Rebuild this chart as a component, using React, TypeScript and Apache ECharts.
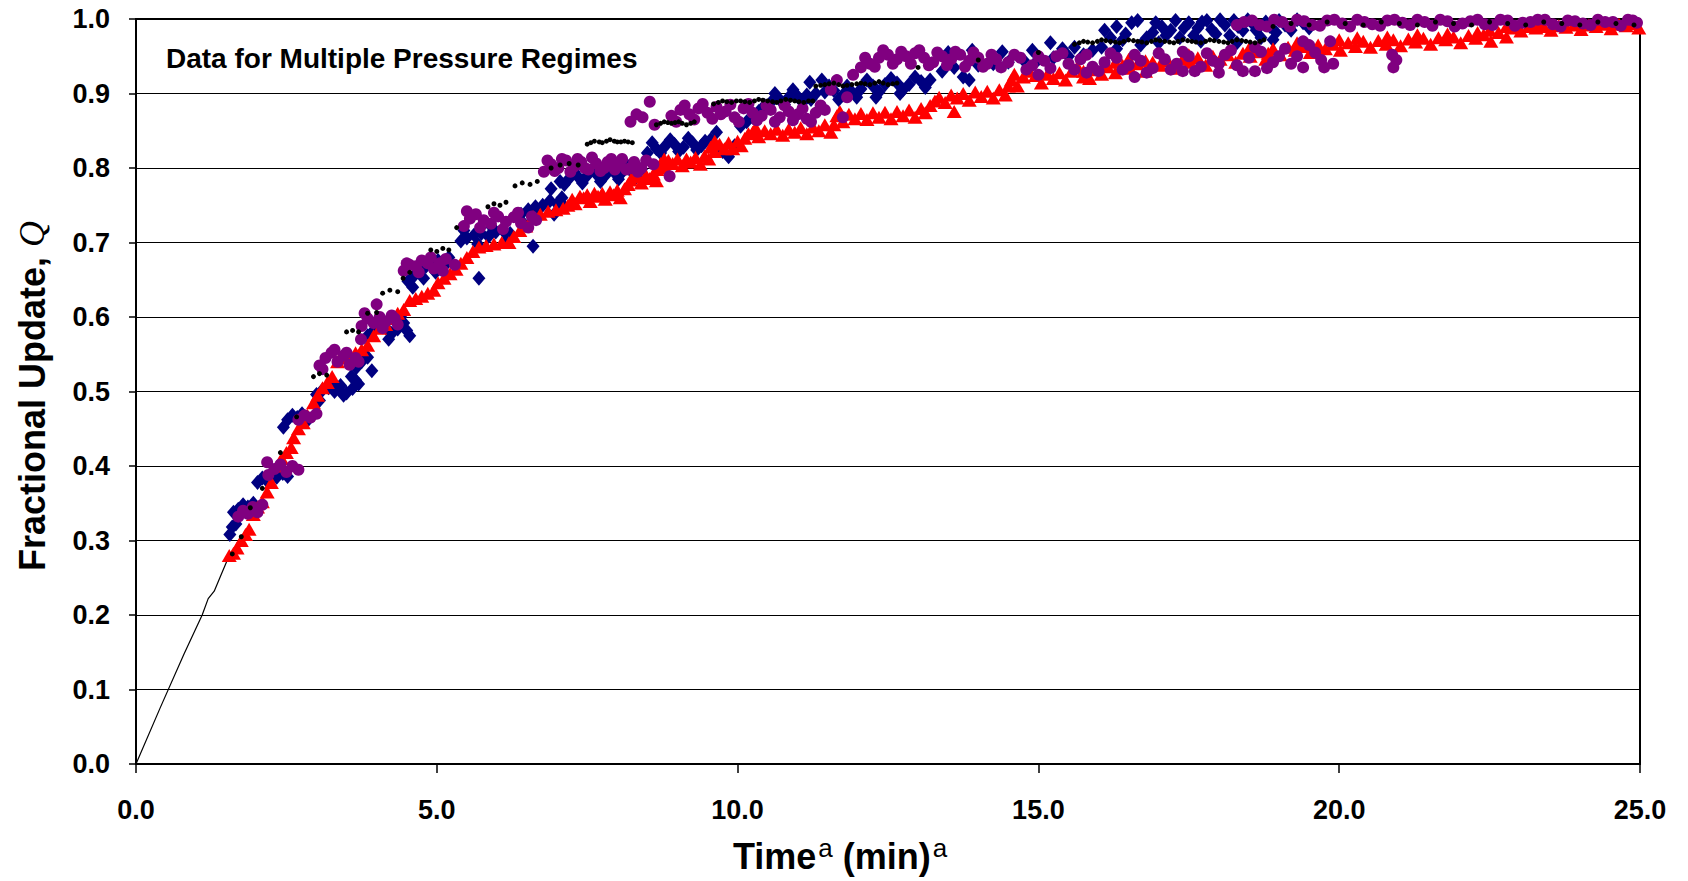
import React, { useEffect, useRef } from "react";
import * as echarts from "echarts";

const xTicks = [0, 5, 10, 15, 20, 25];
const yTicks = [0, 0.1, 0.2, 0.3, 0.4, 0.5, 0.6, 0.7, 0.8, 0.9, 1.0];

const blackLine: [number, number][] = [
  [0, 0], [0.4, 0.075], [0.8, 0.148], [1.1, 0.2], [1.2, 0.222], [1.3, 0.232], [1.42, 0.255], [1.55, 0.28],
];

const blueDiamonds: [number, number][] = [
  [1.56, 0.308], [1.6, 0.318], [1.66, 0.322], [1.62, 0.338], [1.7, 0.342], [1.78, 0.348], [1.86, 0.345], [1.95, 0.35],
  [2.02, 0.378], [2.1, 0.384], [2.18, 0.38], [2.26, 0.388], [2.34, 0.385], [2.44, 0.39], [2.52, 0.386],
  [2.45, 0.452], [2.52, 0.462], [2.6, 0.468], [2.68, 0.465], [2.76, 0.47], [2.84, 0.46],
  [3.0, 0.496], [3.1, 0.502], [3.2, 0.505], [3.3, 0.5], [3.4, 0.508], [3.5, 0.498], [3.6, 0.504], [3.7, 0.51],
  [3.58, 0.52], [3.66, 0.532], [3.75, 0.54], [3.85, 0.546], [3.92, 0.528],
  [3.85, 0.575], [3.95, 0.582], [4.05, 0.59], [4.15, 0.586], [4.25, 0.578], [4.35, 0.584], [4.45, 0.592], [4.55, 0.575],
  [4.52, 0.648], [4.62, 0.655], [4.72, 0.662], [4.82, 0.668], [4.92, 0.672], [5.02, 0.676], [5.12, 0.668],
  [5.4, 0.702], [5.5, 0.706], [5.62, 0.71], [5.74, 0.712], [5.86, 0.708], [5.98, 0.714], [6.1, 0.716], [6.22, 0.712],
  [5.7, 0.652], [6.6, 0.695],
  [6.4, 0.738], [6.52, 0.744], [6.64, 0.748], [6.76, 0.75], [6.88, 0.756], [7.0, 0.752], [7.12, 0.748],
  [6.9, 0.772], [7.05, 0.782], [7.2, 0.786], [7.35, 0.788], [7.5, 0.79], [7.65, 0.792], [7.8, 0.79], [7.95, 0.794], [8.1, 0.796], [8.25, 0.794], [8.4, 0.798],
  [8.5, 0.82], [8.65, 0.826], [8.8, 0.83], [8.95, 0.832], [9.1, 0.828], [9.25, 0.834], [9.4, 0.83],
  [9.55, 0.838], [9.65, 0.848], [9.75, 0.822], [9.85, 0.815], [9.95, 0.83], [10.05, 0.856], [10.15, 0.862],
  [10.25, 0.868], [10.35, 0.876], [10.45, 0.884], [10.55, 0.888], [10.7, 0.892], [10.85, 0.895], [11.0, 0.896], [11.15, 0.898], [11.3, 0.9], [11.45, 0.902], [11.6, 0.904], [11.75, 0.898], [11.9, 0.902],
  [12.05, 0.906], [12.25, 0.91], [12.45, 0.912], [12.65, 0.914], [12.85, 0.912], [13.05, 0.916], [13.2, 0.918],
  [11.2, 0.915], [11.4, 0.918], [12.3, 0.895], [12.7, 0.9],
  [13.4, 0.93], [13.6, 0.935], [13.75, 0.922], [13.85, 0.918], [14.0, 0.938], [14.25, 0.94], [14.5, 0.942], [14.75, 0.945], [15.0, 0.946], [15.25, 0.948], [15.5, 0.95], [15.75, 0.952], [15.2, 0.968],
  [16.05, 0.962], [16.2, 0.975], [16.4, 0.972], [16.55, 0.995], [16.7, 0.965], [16.9, 0.982], [17.05, 0.99], [17.2, 0.985], [17.35, 0.975], [17.5, 0.995], [17.65, 0.988], [17.8, 0.998], [17.95, 0.98], [18.1, 0.992], [18.25, 0.998], [18.4, 0.985], [18.55, 0.995], [18.7, 0.975], [18.85, 0.99], [19.0, 0.998], [19.2, 0.985], [19.4, 0.995],
  [15.9, 0.958], [16.3, 0.96], [17.0, 0.968], [17.7, 0.97], [18.3, 0.968], [18.9, 0.972],
  [7.12, 0.778], [7.28, 0.795], [7.42, 0.78], [7.58, 0.798], [7.72, 0.782], [7.88, 0.8], [8.02, 0.785], [8.18, 0.802], [8.32, 0.788],
  [8.58, 0.834], [8.72, 0.82], [8.88, 0.838], [9.02, 0.822], [9.18, 0.84], [9.32, 0.824], [9.46, 0.836],
  [10.62, 0.9], [10.78, 0.885], [10.92, 0.905], [11.08, 0.888], [11.22, 0.892], [11.52, 0.91], [11.68, 0.892], [11.82, 0.91], [11.98, 0.895],
  [12.15, 0.918], [12.35, 0.902], [12.55, 0.92], [12.75, 0.905], [12.95, 0.922], [13.12, 0.908],
  [13.5, 0.955], [13.9, 0.958], [14.4, 0.956], [14.9, 0.958], [15.4, 0.96], [15.6, 0.962],
  [16.1, 0.985], [16.3, 0.99], [16.45, 0.98], [16.65, 0.998], [16.8, 0.975], [16.95, 0.995], [17.12, 0.978], [17.28, 0.998], [17.42, 0.988], [17.58, 0.978], [17.72, 0.996], [17.88, 0.986], [18.02, 0.999], [18.18, 0.978], [18.32, 0.99], [18.48, 0.999], [18.62, 0.985], [18.78, 0.996], [18.95, 0.982], [19.1, 0.992], [19.3, 0.999], [19.5, 0.988],
  [6.95, 0.738], [7.08, 0.76], [6.45, 0.725], [6.7, 0.735],
  [5.45, 0.716], [5.68, 0.698], [5.92, 0.72], [6.15, 0.702],
  [4.6, 0.64], [4.78, 0.652], [4.98, 0.66], [5.2, 0.68],
  [3.05, 0.488], [3.25, 0.512], [3.45, 0.495], [3.65, 0.515],
  [4.0, 0.595], [4.2, 0.57], [4.4, 0.6], [4.5, 0.582],
];

const redTriangles: [number, number][] = [
  [1.55, 0.28], [1.62, 0.283], [1.68, 0.29], [1.75, 0.3], [1.82, 0.308], [1.88, 0.315],
  [1.95, 0.335], [2.02, 0.345], [2.1, 0.352], [2.18, 0.365], [2.25, 0.378],
  [2.35, 0.4], [2.42, 0.41], [2.5, 0.418], [2.58, 0.425],
  [2.62, 0.438], [2.7, 0.45], [2.78, 0.458], [2.85, 0.468],
  [2.95, 0.485], [3.02, 0.495], [3.1, 0.505], [3.18, 0.512], [3.26, 0.52],
  [3.35, 0.54], [3.45, 0.545], [3.55, 0.548], [3.65, 0.552], [3.75, 0.556], [3.85, 0.562],
  [3.95, 0.575], [4.05, 0.585], [4.15, 0.59], [4.25, 0.598], [4.35, 0.605], [4.45, 0.61],
  [4.55, 0.622], [4.65, 0.625], [4.75, 0.628], [4.85, 0.632], [4.95, 0.636],
  [5.02, 0.646], [5.12, 0.652], [5.22, 0.658], [5.32, 0.664],
  [5.4, 0.672], [5.5, 0.68], [5.6, 0.688],
  [5.7, 0.694], [5.82, 0.696], [5.95, 0.698], [6.08, 0.7], [6.2, 0.7],
  [6.28, 0.708], [6.38, 0.716], [6.48, 0.722],
  [6.6, 0.735], [6.72, 0.738], [6.85, 0.742], [6.98, 0.744], [7.1, 0.746],
  [7.25, 0.758], [7.38, 0.762], [7.5, 0.764], [7.62, 0.766], [7.75, 0.766], [7.88, 0.768], [8.0, 0.77], [8.12, 0.772],
  [8.22, 0.784], [8.35, 0.788], [8.48, 0.79], [8.6, 0.792],
  [8.72, 0.806], [8.85, 0.81], [9.0, 0.812], [9.15, 0.812], [9.3, 0.814], [9.45, 0.816],
  [9.55, 0.828], [9.7, 0.832], [9.85, 0.834], [10.0, 0.836], [10.12, 0.84],
  [10.25, 0.848], [10.45, 0.85], [10.65, 0.852], [10.85, 0.852], [11.05, 0.854], [11.25, 0.855], [11.45, 0.858],
  [11.65, 0.87], [11.85, 0.872], [12.05, 0.873], [12.25, 0.874], [12.45, 0.875], [12.65, 0.876], [12.85, 0.878], [13.05, 0.88], [13.2, 0.884],
  [13.35, 0.895], [13.55, 0.898], [13.75, 0.9], [13.95, 0.902], [14.15, 0.903], [14.35, 0.905],
  [14.55, 0.918], [14.75, 0.922], [14.95, 0.924], [15.15, 0.926], [15.35, 0.928], [15.55, 0.93], [15.75, 0.93], [15.95, 0.932],
  [16.15, 0.936], [16.4, 0.938], [16.65, 0.94], [16.9, 0.942], [17.15, 0.944], [17.4, 0.946], [17.65, 0.948], [17.9, 0.95], [18.15, 0.952], [18.4, 0.954], [18.65, 0.956],
  [18.9, 0.96], [19.15, 0.962], [19.4, 0.963], [19.65, 0.965], [19.9, 0.966], [20.15, 0.968],
  [20.4, 0.97], [20.65, 0.971], [20.9, 0.972], [21.15, 0.973], [21.4, 0.974], [21.65, 0.975], [21.9, 0.976], [22.15, 0.978], [22.4, 0.979], [22.65, 0.982],
  [22.9, 0.988], [23.15, 0.99], [23.4, 0.99], [23.65, 0.991], [23.9, 0.992], [24.15, 0.992], [24.4, 0.993], [24.65, 0.993], [24.9, 0.994],
  [7.3, 0.752], [7.55, 0.755], [7.8, 0.758], [8.05, 0.76],
  [8.4, 0.78], [8.65, 0.783],
  [8.8, 0.8], [9.08, 0.803], [9.38, 0.805],
  [9.62, 0.822], [9.92, 0.826],
  [10.35, 0.842], [10.75, 0.844], [11.15, 0.846], [11.55, 0.848],
  [11.75, 0.862], [12.15, 0.865], [12.55, 0.866], [12.95, 0.868],
  [13.45, 0.888], [13.6, 0.876], [13.85, 0.891], [14.25, 0.894],
  [14.65, 0.91], [15.05, 0.914], [15.45, 0.918], [15.85, 0.92],
  [16.28, 0.928], [16.78, 0.93], [17.28, 0.934], [17.78, 0.938], [18.28, 0.942], [18.78, 0.946],
  [19.02, 0.952], [19.52, 0.955], [20.02, 0.958],
  [20.52, 0.962], [21.02, 0.964], [21.52, 0.966], [22.02, 0.968], [22.52, 0.97],
  [23.02, 0.984], [23.52, 0.985], [24.02, 0.986], [24.52, 0.987], [24.98, 0.988],
  [14.85, 0.93], [15.65, 0.936], [16.5, 0.946], [17.5, 0.952], [18.5, 0.96], [19.3, 0.968], [20.3, 0.975], [21.3, 0.979], [22.3, 0.982], [23.3, 0.995], [24.3, 0.996],
  [7.18, 0.75], [7.44, 0.76], [7.68, 0.762], [7.94, 0.764], [8.18, 0.778],
  [8.28, 0.79], [8.54, 0.786], [8.66, 0.798],
  [8.78, 0.812], [8.92, 0.806], [9.22, 0.808], [9.52, 0.812],
  [9.62, 0.836], [9.78, 0.826], [10.06, 0.83], [10.18, 0.846],
  [10.3, 0.854], [10.55, 0.846], [10.95, 0.848], [11.35, 0.85], [11.6, 0.858],
  [11.7, 0.876], [11.95, 0.866], [12.35, 0.868], [12.75, 0.87], [13.12, 0.874],
  [13.28, 0.89], [13.65, 0.894], [14.05, 0.896], [14.45, 0.898], [14.5, 0.91],
  [14.6, 0.926], [15.25, 0.92], [15.75, 0.922], [16.05, 0.926],
  [16.28, 0.942], [16.52, 0.934], [16.78, 0.944], [17.02, 0.938], [17.52, 0.942], [18.02, 0.946], [18.52, 0.95],
  [18.82, 0.954], [19.27, 0.958], [19.77, 0.96], [20.27, 0.963],
  [20.78, 0.966], [21.27, 0.969], [21.77, 0.972], [22.27, 0.974], [22.78, 0.976],
  [22.78, 0.99], [23.27, 0.988], [23.77, 0.989], [24.27, 0.99], [24.77, 0.991],
  [20.0, 0.972], [20.8, 0.976], [21.8, 0.98], [22.5, 0.985],
];

const purpleCircles: [number, number][] = [
  [1.7, 0.332], [1.78, 0.34], [1.86, 0.336], [1.94, 0.345], [2.02, 0.338], [2.1, 0.348],
  [2.2, 0.388], [2.3, 0.396], [2.4, 0.402], [2.5, 0.392], [2.6, 0.4], [2.7, 0.395], [2.18, 0.405],
  [2.7, 0.462], [2.8, 0.468], [2.9, 0.465], [3.0, 0.47],
  [3.05, 0.535], [3.15, 0.545], [3.25, 0.552], [3.35, 0.54], [3.45, 0.548], [3.55, 0.536], [3.65, 0.545], [3.74, 0.57],
  [3.75, 0.588], [3.85, 0.598], [3.95, 0.592], [4.05, 0.6], [4.15, 0.594], [4.25, 0.602], [4.35, 0.59], [4.0, 0.617],
  [4.45, 0.662], [4.55, 0.67], [4.65, 0.668], [4.75, 0.676], [4.85, 0.672], [4.95, 0.665], [5.05, 0.672], [5.15, 0.678], [5.3, 0.67],
  [5.45, 0.722], [5.55, 0.732], [5.65, 0.738], [5.78, 0.73], [5.9, 0.725], [6.02, 0.735], [6.15, 0.728], [6.28, 0.734], [6.4, 0.726], [6.52, 0.72], [6.65, 0.73],
  [6.78, 0.795], [6.9, 0.805], [7.02, 0.8], [7.15, 0.81], [7.28, 0.802], [7.4, 0.808], [7.52, 0.798], [7.65, 0.806], [7.78, 0.8], [7.9, 0.812], [8.02, 0.804], [8.15, 0.798], [8.28, 0.808], [8.4, 0.8], [8.87, 0.789], [8.6, 0.805],
  [8.22, 0.862], [8.32, 0.872], [8.42, 0.868], [8.54, 0.889], [8.62, 0.858],
  [8.9, 0.87], [9.05, 0.878], [9.2, 0.872], [9.35, 0.88], [9.5, 0.874], [9.65, 0.882], [9.8, 0.876], [9.95, 0.868], [10.1, 0.88], [10.25, 0.874], [10.4, 0.87], [10.55, 0.878], [10.7, 0.868], [10.85, 0.876], [11.0, 0.872], [11.15, 0.866], [11.3, 0.874], [11.45, 0.878],
  [11.55, 0.905], [11.65, 0.918], [11.75, 0.868], [11.82, 0.895], [11.92, 0.925],
  [12.05, 0.935], [12.2, 0.94], [12.35, 0.948], [12.5, 0.952], [12.65, 0.946], [12.8, 0.95], [12.95, 0.954], [13.1, 0.948], [13.25, 0.942], [13.4, 0.95], [13.55, 0.946], [13.7, 0.952], [13.85, 0.944], [14.0, 0.948], [14.15, 0.94], [14.3, 0.946],
  [14.5, 0.942], [14.7, 0.948], [14.9, 0.938], [15.1, 0.944], [15.3, 0.95], [15.5, 0.94], [15.7, 0.946], [15.9, 0.936], [16.1, 0.942], [16.3, 0.948], [16.5, 0.938], [16.7, 0.944], [16.9, 0.934], [17.1, 0.946], [17.3, 0.94], [17.5, 0.95], [17.7, 0.936], [17.9, 0.944], [18.1, 0.952], [18.3, 0.938], [18.5, 0.948], [18.7, 0.956], [18.9, 0.942], [19.1, 0.96], [19.3, 0.95], [19.5, 0.965], [19.7, 0.945], [19.85, 0.97],
  [15.0, 0.925], [15.8, 0.928], [16.6, 0.922], [17.4, 0.93], [18.0, 0.928], [18.6, 0.93], [19.4, 0.935], [19.9, 0.94],
  [20.9, 0.935], [20.95, 0.945], [20.88, 0.952],
  [18.3, 0.992], [18.55, 0.998], [18.8, 0.99], [19.05, 0.996], [19.3, 0.999], [19.55, 0.992], [19.8, 0.998], [20.05, 0.994], [20.3, 0.999], [20.55, 0.993], [20.8, 0.998], [21.05, 0.995], [21.3, 0.999], [21.55, 0.991], [21.8, 0.997], [22.05, 0.994], [22.3, 0.999], [22.55, 0.992], [22.8, 0.998], [23.05, 0.995], [23.3, 0.999], [23.55, 0.993], [23.8, 0.998], [24.05, 0.994], [24.3, 0.999], [24.55, 0.996], [24.8, 0.999], [24.95, 0.995],
  [6.84, 0.81], [6.96, 0.796], [7.08, 0.812], [7.22, 0.795], [7.34, 0.812], [7.46, 0.8], [7.58, 0.814], [7.72, 0.796], [7.84, 0.808], [7.96, 0.798], [8.08, 0.812], [8.22, 0.8], [8.34, 0.795], [8.48, 0.81],
  [8.98, 0.862], [9.12, 0.884], [9.28, 0.865], [9.42, 0.886], [9.58, 0.866], [9.72, 0.872], [9.88, 0.885], [10.02, 0.862], [10.18, 0.886], [10.32, 0.864], [10.48, 0.884], [10.62, 0.862], [10.78, 0.884], [10.92, 0.864], [11.08, 0.88], [11.22, 0.862], [11.38, 0.884],
  [12.12, 0.948], [12.28, 0.936], [12.42, 0.958], [12.58, 0.94], [12.72, 0.956], [12.88, 0.94], [13.02, 0.958], [13.18, 0.938], [13.32, 0.955], [13.48, 0.938], [13.62, 0.956], [13.78, 0.936], [13.92, 0.955], [14.08, 0.936], [14.22, 0.952], [14.38, 0.935],
  [14.6, 0.952], [14.8, 0.932], [15.0, 0.95], [15.2, 0.934], [15.4, 0.954], [15.6, 0.932], [15.8, 0.952], [16.0, 0.93], [16.2, 0.954], [16.4, 0.932], [16.6, 0.952], [16.8, 0.928], [17.0, 0.954], [17.2, 0.932], [17.4, 0.956], [17.6, 0.93], [17.8, 0.954], [18.0, 0.94], [18.2, 0.958], [18.4, 0.93], [18.6, 0.962], [18.8, 0.934], [19.0, 0.95], [19.2, 0.94], [19.4, 0.97], [19.6, 0.955], [19.75, 0.935],
  [18.42, 0.996], [18.68, 0.992], [18.92, 0.999], [19.18, 0.99], [19.42, 0.997], [19.68, 0.991], [19.92, 0.999], [20.18, 0.99], [20.42, 0.996], [20.68, 0.991], [20.92, 0.999], [21.18, 0.992], [21.42, 0.996], [21.68, 0.999], [21.92, 0.99], [22.18, 0.997], [22.42, 0.993], [22.68, 0.999], [22.92, 0.991], [23.18, 0.996], [23.42, 0.999], [23.68, 0.99], [23.92, 0.997], [24.18, 0.992], [24.42, 0.996], [24.68, 0.991], [24.88, 0.998],
  [5.5, 0.742], [5.72, 0.72], [5.95, 0.74], [6.1, 0.718], [6.35, 0.74], [6.58, 0.735],
  [4.5, 0.672], [4.7, 0.66], [4.9, 0.68], [5.1, 0.662],
  [3.1, 0.53], [3.3, 0.556], [3.5, 0.552], [3.7, 0.54],
  [3.8, 0.605], [4.1, 0.585], [4.3, 0.598],
];

const blackDots: [number, number][] = [
  [1.6, 0.282], [1.75, 0.305], [1.9, 0.344], [2.1, 0.37], [2.4, 0.418], [2.67, 0.466],
  [2.95, 0.52], [3.05, 0.524], [3.17, 0.522],
  [3.5, 0.58], [3.6, 0.582], [3.7, 0.58], [3.85, 0.605], [4.0, 0.606],
  [4.1, 0.632], [4.22, 0.636], [4.35, 0.634], [4.44, 0.652], [4.55, 0.66],
  [4.9, 0.69], [5.0, 0.688], [5.1, 0.692], [5.2, 0.69], [5.33, 0.72],
  [5.85, 0.748], [5.95, 0.752], [6.05, 0.75], [6.15, 0.754],
  [6.3, 0.776], [6.42, 0.78], [6.55, 0.778], [6.67, 0.782],
  [6.9, 0.8], [7.05, 0.804], [7.2, 0.806], [7.35, 0.804],
  [7.5, 0.832], [7.62, 0.836], [7.75, 0.834], [7.88, 0.838], [8.0, 0.835], [8.12, 0.836], [8.25, 0.834],
  [8.65, 0.858], [8.78, 0.862], [8.9, 0.86], [9.02, 0.862], [9.15, 0.858], [9.28, 0.862],
  [9.6, 0.886], [9.75, 0.89], [9.9, 0.888], [10.05, 0.89], [10.2, 0.888], [10.35, 0.892], [10.5, 0.89], [10.65, 0.888], [10.8, 0.892], [10.95, 0.89], [11.1, 0.888], [11.25, 0.89],
  [11.3, 0.91], [11.45, 0.912], [11.6, 0.914], [11.75, 0.91], [11.9, 0.912], [12.05, 0.914], [12.2, 0.912], [12.35, 0.916], [12.5, 0.912], [12.65, 0.914],
  [13.0, 0.935], [14.0, 0.945], [15.0, 0.955],
  [15.6, 0.966], [15.75, 0.97], [15.9, 0.968], [16.05, 0.972], [16.2, 0.97], [16.35, 0.968], [16.5, 0.972], [16.65, 0.97], [16.8, 0.968], [16.95, 0.972], [17.1, 0.97], [17.25, 0.968], [17.4, 0.972], [17.55, 0.97], [17.7, 0.968], [17.85, 0.972], [18.0, 0.97], [18.15, 0.968], [18.3, 0.972], [18.45, 0.97], [18.6, 0.968], [18.75, 0.972],
  [18.9, 0.99], [19.2, 0.994], [19.5, 0.992], [19.8, 0.996], [20.1, 0.994], [20.4, 0.992], [20.7, 0.996], [21.0, 0.994], [21.3, 0.992], [21.6, 0.996], [21.9, 0.994], [22.2, 0.992], [22.5, 0.996], [22.8, 0.994], [23.1, 0.992], [23.4, 0.996], [23.7, 0.994], [24.0, 0.992], [24.3, 0.996], [24.6, 0.994], [24.9, 0.992],
  [9.68, 0.888], [9.82, 0.889], [9.98, 0.89], [10.12, 0.889], [10.28, 0.89], [10.42, 0.891], [10.58, 0.889], [10.72, 0.89], [10.88, 0.891], [11.02, 0.889], [11.18, 0.89],
  [11.38, 0.911], [11.52, 0.913], [11.68, 0.912], [11.82, 0.911], [11.98, 0.913], [12.12, 0.913], [12.28, 0.914], [12.42, 0.914], [12.58, 0.913],
  [15.68, 0.968], [15.82, 0.969], [15.98, 0.97], [16.12, 0.971], [16.28, 0.969], [16.42, 0.97], [16.58, 0.971], [16.72, 0.969], [16.88, 0.97], [17.02, 0.971], [17.18, 0.969], [17.32, 0.97], [17.48, 0.971], [17.62, 0.969], [17.78, 0.97], [17.92, 0.971], [18.08, 0.969], [18.22, 0.97], [18.38, 0.971], [18.52, 0.969], [18.68, 0.97],
  [7.56, 0.834], [7.7, 0.835], [7.82, 0.836], [7.95, 0.836], [8.06, 0.835], [8.18, 0.835],
  [8.72, 0.86], [8.84, 0.861], [8.96, 0.861], [9.08, 0.86], [9.22, 0.86],
];

const FONT = "'Liberation Sans', Arial, sans-serif";

export default function App() {
  const ref = useRef<HTMLDivElement>(null);
  useEffect(() => {
    if (!ref.current) return;
    const chart = echarts.init(ref.current, null, { renderer: "svg" });
    chart.setOption({
      animation: false,
      backgroundColor: "#ffffff",
      grid: {
        left: 136, right: 48, top: 19, bottom: 117,
        show: true, borderColor: "#000", borderWidth: 2, backgroundColor: "transparent",
      },
      xAxis: {
        type: "value", min: xTicks[0], max: xTicks[xTicks.length - 1], interval: 5,
        axisLine: { show: true, lineStyle: { color: "#000", width: 2 } },
        axisTick: { show: true, inside: false, length: 9, lineStyle: { color: "#000", width: 1.5 } },
        splitLine: { show: false },
        axisLabel: {
          margin: 32, color: "#000", fontFamily: FONT, fontWeight: "bold", fontSize: 27,
          formatter: (v: number) => v.toFixed(1),
        },
      },
      yAxis: {
        type: "value", min: yTicks[0], max: yTicks[yTicks.length - 1], interval: 0.1,
        axisLine: { show: true, lineStyle: { color: "#000", width: 2 } },
        axisTick: { show: true, inside: false, length: 7, lineStyle: { color: "#000", width: 1.5 } },
        splitLine: { show: true, lineStyle: { color: "#000", width: 1 } },
        axisLabel: {
          margin: 26, color: "#000", fontFamily: FONT, fontWeight: "bold", fontSize: 27,
          formatter: (v: number) => v.toFixed(1),
        },
      },
      graphic: [
        {
          type: "text", left: 166, top: 44,
          style: { text: "Data for Multiple Pressure Regimes", fill: "#000", font: `bold 28px ${FONT}` },
        },
        {
          type: "text", x: 32, y: 396, rotation: Math.PI / 2,
          style: {
            text: "{b|Fractional Update, }{q|Q}", align: "center", verticalAlign: "middle",
            rich: {
              b: { fontFamily: FONT, fontWeight: "bold", fontSize: 36, fill: "#000" },
              q: { fontFamily: "'Liberation Serif', 'Times New Roman', serif", fontStyle: "italic", fontSize: 36, fill: "#000" },
            },
          },
        },
        {
          type: "text", x: 840, y: 856,
          style: {
            text: "{b|Time}{s|a}{b| (min)}{s|a}", align: "center", verticalAlign: "middle",
            rich: {
              b: { fontFamily: FONT, fontWeight: "bold", fontSize: 36, lineHeight: 42, fill: "#000" },
              s: { fontFamily: FONT, fontWeight: "normal", fontSize: 26, lineHeight: 24, verticalAlign: "top", fill: "#000", padding: [0, 0, 0, 2] },
            },
          },
        },
      ],
      series: [
        {
          type: "line", data: blackLine, showSymbol: false, symbol: "none",
          lineStyle: { color: "#000", width: 1.2 }, z: 2,
        },
        {
          type: "scatter", data: blueDiamonds, symbol: "diamond", symbolSize: [13, 15],
          itemStyle: { color: "#000080", opacity: 1 }, z: 3,
        },
        {
          type: "scatter", data: redTriangles, symbol: "triangle", symbolSize: [15, 13],
          itemStyle: { color: "#ff0000", opacity: 1 }, z: 4,
        },
        {
          type: "scatter", data: purpleCircles, symbol: "circle", symbolSize: 12,
          itemStyle: { color: "#800080", opacity: 1 }, z: 5,
        },
        {
          type: "scatter", data: blackDots, symbol: "circle", symbolSize: 5,
          itemStyle: { color: "#000", opacity: 1 }, z: 6,
        },
      ],
    });
    return () => chart.dispose();
  }, []);
  return (
    <div
      ref={ref}
      style={{ position: "fixed", left: 0, top: 0, width: 1688, height: 881, background: "#fff" }}
    />
  );
}
